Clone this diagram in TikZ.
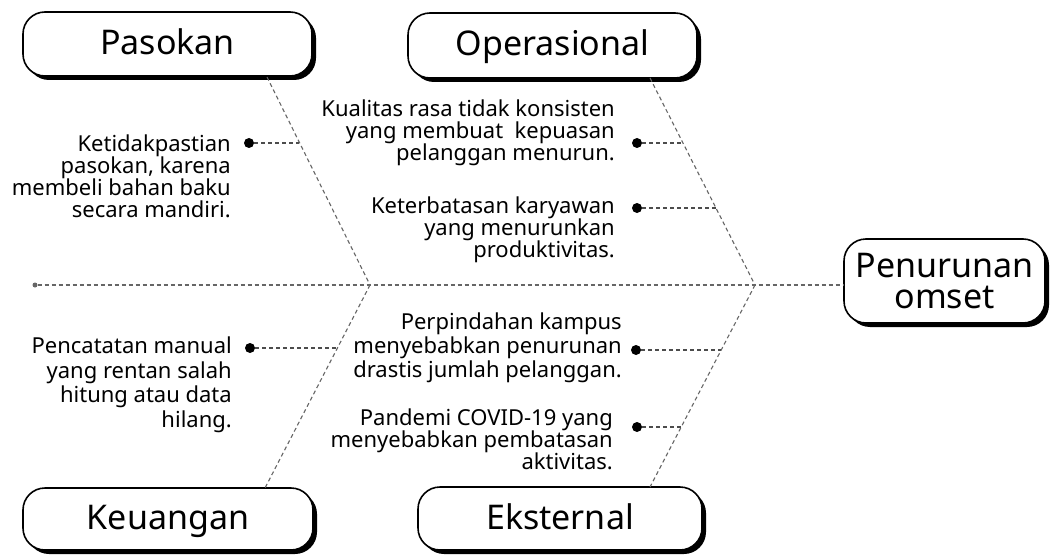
\documentclass[tikz,border=0pt]{standalone}
\usepackage{fontspec}
\setmainfont{Noto Sans}
\usetikzlibrary{shadows}
\begin{document}
\begin{tikzpicture}[x=1pt,y=-1pt,
  catbox/.style={draw=black, line width=1.6pt, rounded corners=22pt, fill=white,
    inner sep=0pt, font=\fontsize{34}{31}\selectfont, text height=25pt, text depth=4pt,
    drop shadow={shadow xshift=4pt, shadow yshift=-4pt, opacity=1, fill=black}},
  bone/.style={draw=black!60, line width=1.1pt, dash pattern=on 4pt off 3pt},
  leaf/.style={draw=black!70, line width=1.1pt, dash pattern=on 4pt off 3pt},
  dotn/.style={circle, fill=black, inner sep=0pt, minimum size=10pt},
  cause/.style={anchor=east, align=right, inner sep=0pt, font=\fontsize{22}{22}\selectfont}
]
\useasboundingbox (0,0) rectangle (1051,556);
\fill[white] (0,0) rectangle (1051,556);

% category boxes
\node[catbox, minimum width=289pt, minimum height=64pt] (pas) at (167.5,44) {Pasokan};
\node[catbox, minimum width=289pt, minimum height=65pt] (ope) at (552.5,45.5) {Operasional};
\node[catbox, minimum width=290pt, minimum height=62pt] (keu) at (168,519) {Keuangan};
\node[catbox, minimum width=284pt, minimum height=63pt] (eks) at (560,518.5) {Eksternal};
\node[catbox, minimum width=201pt, minimum height=84pt, align=center, text height=, text depth=] (eff) at (944.5,281) {Penurunan\\omset};

% spine
\node[circle, fill=black!60, inner sep=0pt, minimum size=5pt] (tail) at (35,285) {};
\coordinate (j1) at (370,285);
\coordinate (j2) at (755,285);
\draw[bone] (tail) -- (eff.west |- tail);

% bone ends on boxes
\coordinate (pb) at (267,77);
\coordinate (ob) at (650,78);
\coordinate (kb) at (265,488);
\coordinate (eb) at (650,487);
\draw[bone] (pb) -- (j1);
\draw[bone] (ob) -- (j2);
\draw[bone] (j1) -- (kb);
\draw[bone] (j2) -- (eb);

% branch points on bones
\coordinate (b1) at (299.3,143);
\coordinate (b2) at (682.6,143);
\coordinate (b3) at (715.8,208);
\coordinate (b4) at (337.4,348);
\coordinate (b5) at (721.2,350);
\coordinate (b6) at (681.2,427);

% dots
\node[dotn] (d1) at (249,143) {};
\node[dotn] (d2) at (637,143) {};
\node[dotn] (d3) at (637,208) {};
\node[dotn] (d4) at (250,348) {};
\node[dotn] (d5) at (636,350) {};
\node[dotn] (d6) at (637,427) {};

\draw[leaf] (d1) -- (b1);
\draw[leaf] (d2) -- (b2);
\draw[leaf] (d3) -- (b3);
\draw[leaf] (d4) -- (b4);
\draw[leaf] (d5) -- (b5);
\draw[leaf] (d6) -- (b6);

% cause texts
\node[cause] (t1) at (231,176) {Ketidakpastian\\pasokan, karena\\membeli bahan baku\\secara mandiri.};
\node[cause] (t2) at (615,133) {Kualitas rasa tidak konsisten\\yang membuat\ \ kepuasan\\pelanggan menurun.};
\node[cause] (t3) at (615,230) {Keterbatasan karyawan\\yang menurunkan\\produktivitas.};
\node[cause, font=\fontsize{22}{24.5}\selectfont] (t4) at (232,385) {Pencatatan manual\\yang rentan salah\\hitung atau data\\hilang.};
\node[cause, font=\fontsize{22}{24}\selectfont] (t5) at (622,348) {Perpindahan kampus\\menyebabkan penurunan\\drastis jumlah pelanggan.};
\node[cause] (t6) at (613,439) {Pandemi COVID-19 yang\\menyebabkan pembatasan\\aktivitas.};
\end{tikzpicture}
\end{document}
